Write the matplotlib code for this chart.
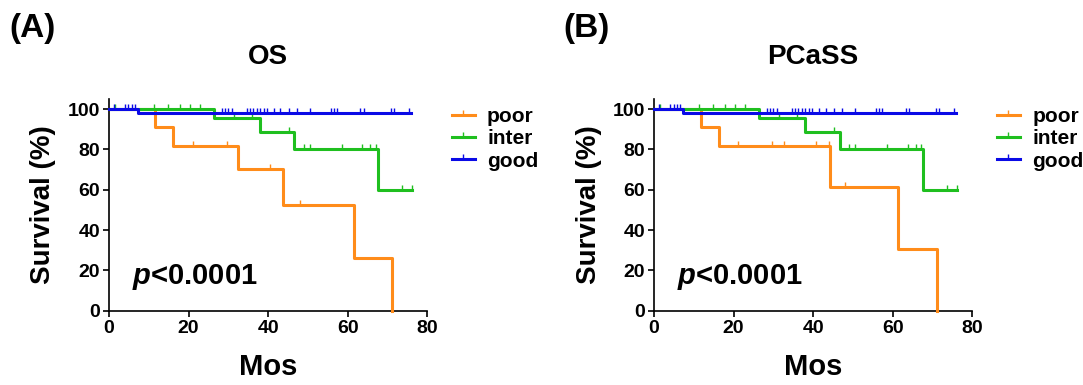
import matplotlib
matplotlib.use("Agg")
import matplotlib.pyplot as plt
from matplotlib.lines import Line2D
import numpy as np

plt.rcParams['font.family'] = ['Liberation Sans', 'DejaVu Sans']
plt.rcParams['font.weight'] = 'bold'
plt.rcParams['mathtext.fontset'] = 'custom'
plt.rcParams['mathtext.it'] = 'Liberation Sans:italic:bold'
plt.rcParams['mathtext.rm'] = 'Liberation Sans:bold'

groups = ['poor', 'inter', 'good']
colors = ['#ff8c1a', '#1fbf1f', '#0a0ae6']

# panel A (OS): step times / survival (%) / censor times
os_poor_t = [0, 11.6, 16.2, 32.4, 43.7, 61.5, 71.2]
os_poor_s = [100, 90.9, 81.8, 70.1, 52.6, 26.3, 0]
os_poor_c = [21.2, 29.6, 40.5, 47.9]
os_inter_t = [0, 26.3, 38.0, 46.6, 67.6, 76.2]
os_inter_s = [100, 95.5, 88.5, 80.1, 60.0, 60.0]
os_inter_c = [1.5, 11.2, 14.9, 17.9, 20.4, 22.9, 31.3, 35.9, 45.2, 49.1, 50.5,
              58.6, 63.7, 65.7, 67.0, 73.7, 76.2]
os_good_t = [0, 7.4, 75.8]
os_good_s = [100, 98.1, 98.1]
os_good_c = [1.3, 4.0, 4.9, 5.7, 6.5, 28.4, 29.2, 30.0, 30.9, 34.7, 35.5, 36.3,
             37.2, 38.0, 38.9, 39.7, 41.4, 43.1, 45.2, 47.3, 50.6, 55.7, 56.5,
             57.4, 63.2, 64.1, 70.8, 71.6, 75.4]

# panel B (PCaSS)
ss_poor_t = [0, 11.8, 16.4, 44.2, 61.3, 71.0]
ss_poor_s = [100, 90.9, 81.8, 61.2, 30.6, 0]
ss_poor_c = [21.2, 29.6, 32.6, 40.6, 43.9, 47.9]
ss_inter_t = [0, 26.3, 37.9, 46.7, 67.7, 76.2]
ss_inter_s = [100, 95.5, 88.5, 80.1, 60.0, 60.0]
ss_inter_c = [1.5, 11.2, 14.9, 17.9, 20.4, 22.9, 31.3, 35.9, 45.2, 49.1, 50.5,
              58.6, 63.7, 65.7, 67.0, 73.7, 76.2]
ss_good_t = [0, 7.4, 75.8]
ss_good_s = [100, 98.1, 98.1]
ss_good_c = [1.3, 4.0, 4.9, 5.7, 6.5, 28.4, 29.2, 30.0, 30.9, 34.7, 35.5, 36.3,
             37.2, 38.0, 38.9, 39.7, 41.4, 43.1, 45.2, 47.3, 50.6, 55.7, 56.5,
             57.4, 63.2, 64.1, 70.8, 71.6, 75.4]

panels = [
    ('(A)', 'OS', [(os_poor_t, os_poor_s, os_poor_c),
                   (os_inter_t, os_inter_s, os_inter_c),
                   (os_good_t, os_good_s, os_good_c)]),
    ('(B)', 'PCaSS', [(ss_poor_t, ss_poor_s, ss_poor_c),
                      (ss_inter_t, ss_inter_s, ss_inter_c),
                      (ss_good_t, ss_good_s, ss_good_c)]),
]


def surv_at(t, s, x):
    idx = np.searchsorted(t, x, side='right') - 1
    return np.asarray(s)[idx]


fig = plt.figure(figsize=(10.83, 3.85), dpi=100)
lefts = [0.1006, 0.6039]
letter_x = [0.009, 0.520]

for k, (letter, title, curves) in enumerate(panels):
    ax = fig.add_axes([lefts[k], 0.193, 0.2940, 0.550])
    for (t, s, c), col in zip(curves, colors):
        ax.step(t, s, where='post', color=col, lw=2.2, clip_on=False, zorder=3)
        ax.plot(c, surv_at(t, s, c), ls='none', marker=2, ms=3.5, mew=1.0,
                color=col, clip_on=False, zorder=3)
    ax.set_xlim(0, 80)
    ax.set_ylim(0, 105)
    ax.set_xticks([0, 20, 40, 60, 80])
    ax.set_yticks([0, 20, 40, 60, 80, 100])
    for side in ['top', 'right']:
        ax.spines[side].set_visible(False)
    for side in ['left', 'bottom']:
        ax.spines[side].set_linewidth(1.2)
    ax.tick_params(direction='out', length=4.5, width=1.2, labelsize=14, pad=2)
    ax.set_xlabel('Mos', fontsize=21, fontweight='bold', labelpad=12)
    ax.set_ylabel('Survival (%)', fontsize=20, fontweight='bold', labelpad=8)
    ax.set_title(title, fontsize=20, fontweight='bold', pad=25)
    ax.text(5.7, 13, r'$\mathit{p}$<0.0001', fontsize=21, fontweight='bold',
            va='baseline', ha='left')
    handles = [Line2D([], [], color=col, lw=2.2, marker=2, ms=3.5, mew=1.0)
               for col in colors]
    ax.legend(handles, groups, loc='upper left', bbox_to_anchor=(1.05, 1.0),
              frameon=False, fontsize=15, handlelength=1.1, handletextpad=0.6,
              labelspacing=0.15, borderaxespad=0)
    fig.text(letter_x[k], 0.904, letter, fontsize=24, fontweight='bold',
             va='baseline', ha='left')

fig.savefig('out.png', dpi=100)
